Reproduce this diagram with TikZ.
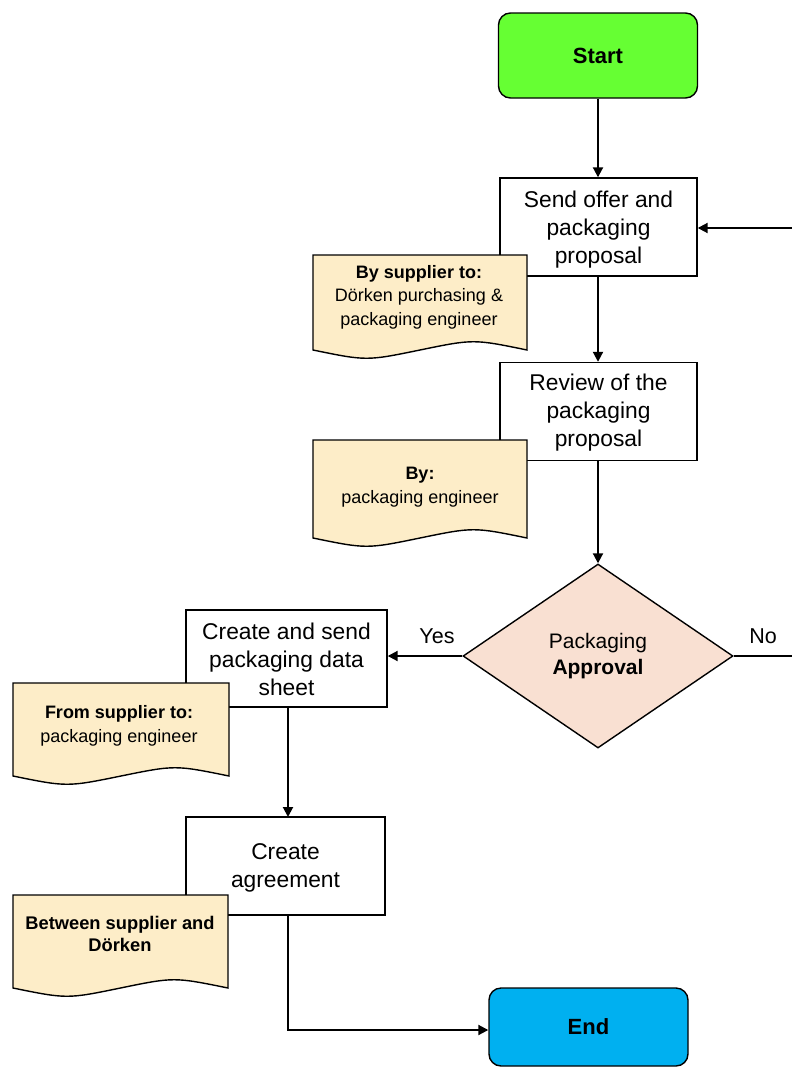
\documentclass[tikz,border=0pt]{standalone}
\usepackage{fontspec}
\setmainfont{Liberation Sans}
\usetikzlibrary{arrows.meta,shapes.geometric,calc}
\definecolor{startgreen}{HTML}{66FF33}
\definecolor{endblue}{HTML}{00B0F0}
\definecolor{notefill}{HTML}{FDEDC8}
\definecolor{decfill}{HTML}{F9E0D2}
\begin{document}
\begin{tikzpicture}[x=1pt,y=-1pt,
  box/.style={draw=black,line width=1.4pt,fill=white,minimum width=197pt,minimum height=98pt,inner sep=0pt},
  boxtext/.style={align=center,inner sep=0pt,font=\fontsize{22.8}{28}\selectfont},
  term/.style={draw=black,line width=1.4pt,rounded corners=12pt,minimum width=199pt,align=center,inner sep=0pt,font=\bfseries\fontsize{22}{26}\selectfont},
  notestyle/.style={draw=black,line width=1.4pt,fill=notefill},
  notetext/.style={align=center,inner sep=0pt,font=\fontsize{18}{23.5}\selectfont},
  dec/.style={draw=black,line width=1.4pt,fill=decfill,diamond,aspect=1.47,minimum width=270pt,minimum height=184pt,inner sep=0pt,align=center,font=\fontsize{21}{26}\selectfont},
  conn/.style={line width=2pt,-{Triangle[length=10pt,width=10pt]}},
  plain/.style={line width=2pt},
  lbl/.style={inner sep=0pt,font=\fontsize{21.5}{26}\selectfont}
]
\useasboundingbox (0,0) rectangle (792,1068);

% terminals
\node[term,fill=startgreen,minimum height=85pt] (start) at (598,55.5) {Start};
\node[term,fill=endblue,minimum height=78pt] (end) at (588.5,1027) {End};

% process boxes
\node[box] (send) at (598.5,227) {};
\node[boxtext] (sendt) at (598.5,229.5) {Send offer and\\packaging\\proposal};
\node[box] (review) at (598.5,411.5) {};
\node[boxtext] (reviewt) at (598.5,413) {Review of the\\packaging\\proposal};
\node[box,minimum width=201pt,minimum height=97pt] (sheet) at (286.5,658.5) {};
\node[boxtext] (sheett) at (286.5,659) {Create and send\\packaging data\\sheet};
\node[box,minimum width=199pt] (agree) at (285.5,866) {};
\node[boxtext] (agreet) at (285.5,868) {Create\\agreement};

% decision
\node[dec] (appr) at (598,656) {Packaging\\\textbf{Approval}};

% connectors
\draw[conn] (start.south) -- (send.north -| start.south);
\draw[conn] (send.south -| start.south) -- (review.north -| start.south);
\draw[conn] (review.south -| start.south) -- (appr.north);
\draw[conn] (appr.west) -- (appr.west -| sheet.east);
\coordinate (sheetout) at (288,707);
\coordinate (agreein) at (288,817);
\draw[conn] (sheetout) -- (agreein);
\coordinate (agreeout) at (288,915);
\coordinate (bend) at (288,1030);
\draw[conn] (agreeout) -- (bend) -- (bend -| end.west);
\coordinate (noend) at (793,656);
\draw[plain] (appr.east) -- (appr.east -| noend);
\coordinate (loopin) at (793,228);
\draw[conn] (loopin) -- (send.east |- loopin);

\node[lbl] (yes) at (437,636) {Yes};
\node[lbl] (no) at (763,636) {No};

% notes
\draw[notestyle] (313,255) -- (527,255) -- (527,350) .. controls (473.5,339) .. (420,350) .. controls (366.5,361) .. (313,350) -- cycle;
\node[notetext] (n1) at (419,297) {\textbf{By supplier to:}\\Dörken purchasing \&\\packaging engineer};

\draw[notestyle] (313,440) -- (527,440) -- (527,538) .. controls (473.5,527) .. (420,538) .. controls (366.5,549) .. (313,538) -- cycle;
\node[notetext] (n2) at (420,487) {\textbf{By:}\\packaging engineer};

\draw[notestyle] (13,683) -- (229,683) -- (229,776) .. controls (175,765) .. (121,776) .. controls (67,787) .. (13,776) -- cycle;
\node[notetext] (n3) at (119,726) {\textbf{From supplier to:}\\packaging engineer};

\draw[notestyle] (13,895) -- (228,895) -- (228,988) .. controls (174,977) .. (120.5,988) .. controls (67,999) .. (13,988) -- cycle;
\node[notetext,font=\bfseries\fontsize{18.3}{22}\selectfont] (n4) at (120,934) {Between supplier and\\Dörken};
\end{tikzpicture}
\end{document}
